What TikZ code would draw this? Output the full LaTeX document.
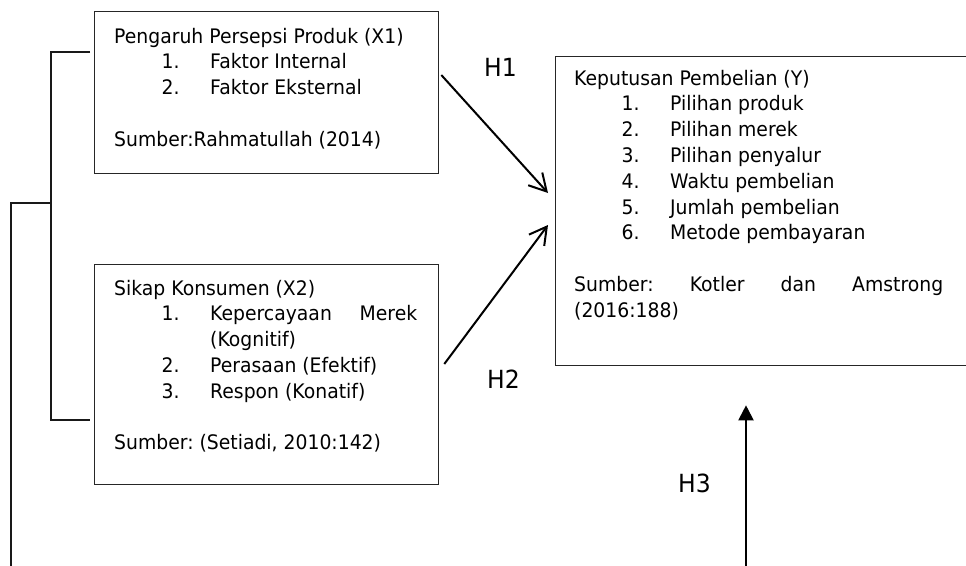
\documentclass[tikz,border=0pt]{standalone}
\usepackage{fontspec}
\setmainfont{DejaVu Sans}[FakeStretch=0.94]
\usetikzlibrary{arrows.meta,calc}
\frenchspacing
\newcommand{\numitem}[2]{\hspace*{47.5pt}\makebox[48.5pt][l]{#1}#2}
\begin{document}
\begin{tikzpicture}[x=1pt,y=-1pt,
  box/.style={draw=black!85, line width=1.3pt, inner sep=0pt, anchor=north west},
  txt/.style={anchor=base west, inner sep=0pt, font=\fontsize{20}{25.8}\selectfont},
  hlab/.style={anchor=base west, inner sep=0pt, font=\fontsize{25}{30}\selectfont},
  openarr/.style={line width=2pt, -{Straight Barb[length=17pt,width=19pt,line width=2pt]}},
  fillarr/.style={line width=2pt, -{Triangle[length=15pt,width=15pt]}},
  bracket/.style={line width=1.3pt, draw=black!90}]
\useasboundingbox (0,0) rectangle (966,565);

% boxes
\node[box, minimum width=344pt, minimum height=162pt] (x1) at (94,11) {};
\node[box, minimum width=344pt, minimum height=220pt] (x2) at (94,264) {};
\node[box, minimum width=420pt, minimum height=309pt] (y) at (555,56) {};

% box texts
\node[txt] (t1) at (114,43) {\parbox[t]{320pt}{Pengaruh Persepsi Produk (X1)\\
\numitem{1.}{Faktor Internal}\\
\numitem{2.}{Faktor Eksternal}\\
\mbox{}\\
Sumber:Rahmatullah (2014)}};

\node[txt] (t2) at (114,295) {\parbox[t]{320pt}{Sikap Konsumen (X2)\\
\numitem{1.}{\makebox[207pt]{Kepercayaan\hfill Merek}}\\
\hspace*{96pt}(Kognitif)\\
\numitem{2.}{Perasaan (Efektif)}\\
\numitem{3.}{Respon (Konatif)}\\
\mbox{}\\
Sumber: (Setiadi, 2010:142)}};

\node[txt] (t3) at (574,85) {\parbox[t]{380pt}{Keputusan Pembelian (Y)\\
\numitem{1.}{Pilihan produk}\\
\numitem{2.}{Pilihan merek}\\
\numitem{3.}{Pilihan penyalur}\\
\numitem{4.}{Waktu pembelian}\\
\numitem{5.}{Jumlah pembelian}\\
\numitem{6.}{Metode pembayaran}\\
\mbox{}\\
\makebox[369pt]{Sumber:\hfill Kotler\hfill dan\hfill Amstrong}\\
(2016:188)}};

% labels
\node[hlab] (h1) at (484,76) {H1};
\node[hlab] (h2) at (487,388) {H2};
\node[hlab] (h3) at (678,492) {H3};

% arrows
\draw[openarr] ($(x1.north east)+(2,64)$) -- ($(y.north west)+(-7,137)$);
\draw[openarr] ($(x2.north east)+(5,100)$) -- ($(y.north west)+(-7,169)$);
\coordinate (h3s) at (746,570);
\draw[fillarr] (h3s) -- ($(y.south west)+(191,39)$);

% bracket
\draw[bracket] ($(x1.north west)+(-4,41)$) -| ($(x2.north west)+(-43,156)$) -- ++(39,0);
\coordinate (oj) at (51,203);
\coordinate (ob) at (11,570);
\draw[bracket] (oj) -| (ob);
\end{tikzpicture}
\end{document}
